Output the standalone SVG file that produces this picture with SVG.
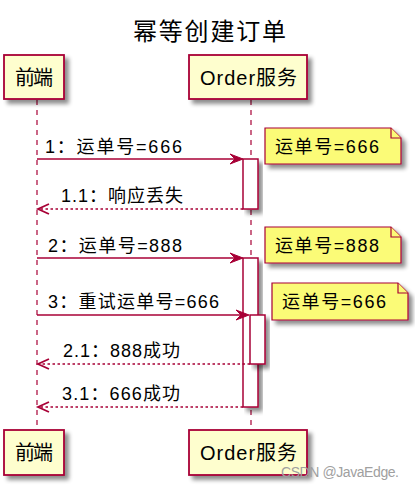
<svg xmlns="http://www.w3.org/2000/svg" width="415" height="490" viewBox="0 0 415 490">
<style>
text{font-family:"Liberation Sans","Noto Sans CJK SC",sans-serif;fill:#000}
.part{fill:#FEFECE;stroke:#A80036;stroke-width:1.8}
.life{stroke:#A80036;stroke-width:1.2;stroke-dasharray:5,5;fill:none}
.act{fill:#FFFFFF;stroke:#A80036;stroke-width:1.5}
.note{fill:#FBFB77;stroke:#A80036;stroke-width:1.2}
.msg{stroke:#A80036;stroke-width:1.4;fill:none}
.ret{stroke:#A80036;stroke-width:1.4;fill:none;stroke-dasharray:2.5,2.5}
.head{fill:#A80036;stroke:#A80036;stroke-width:1}
.ohead{fill:none;stroke:#A80036;stroke-width:1.8}
.pt{font-size:20px}
.mt{font-size:18px}
</style>
<defs>
<filter id="sh" x="-20%" y="-20%" width="150%" height="150%">
<feGaussianBlur in="SourceAlpha" stdDeviation="2"/>
<feOffset dx="4" dy="4" result="b"/>
<feComponentTransfer><feFuncA type="linear" slope="0.45"/></feComponentTransfer>
<feMerge><feMergeNode/><feMergeNode in="SourceGraphic"/></feMerge>
</filter>
</defs>
<rect width="415" height="490" fill="#FFFFFF"/>
<text x="209.5" y="40" font-size="24" text-anchor="middle" textLength="153" lengthAdjust="spacing">幂等创建订单</text>
<g id="lifelines">
<line class="life" x1="37" y1="100" x2="37" y2="430"/>
<line class="life" x1="251" y1="100" x2="251" y2="430"/>
</g>
<g id="p-front-top"><rect class="part" x="4" y="55" width="60" height="44" filter="url(#sh)"/><text class="pt" x="15" y="85" textLength="38" lengthAdjust="spacing">前端</text></g>
<g id="p-order-top"><rect class="part" x="189" y="55" width="118" height="44" filter="url(#sh)"/><text class="pt" x="200" y="85" textLength="97" lengthAdjust="spacing">Order服务</text></g>
<g id="p-front-bottom"><rect class="part" x="4" y="430" width="60" height="45" filter="url(#sh)"/><text class="pt" x="15" y="460" textLength="38" lengthAdjust="spacing">前端</text></g>
<g id="p-order-bottom"><rect class="part" x="189" y="430" width="118" height="45" filter="url(#sh)"/><text class="pt" x="200" y="460" textLength="97" lengthAdjust="spacing">Order服务</text></g>
<g id="activations">
<rect class="act" x="243" y="159" width="15" height="50" filter="url(#sh)"/>
<rect class="act" x="243" y="258" width="15" height="149" filter="url(#sh)"/>
<rect class="act" x="250" y="315" width="15" height="49" filter="url(#sh)"/>
</g>
<g id="notes">
<g id="note1"><path class="note" d="M265,128 H391 L401,138 V164 H265 Z" filter="url(#sh)"/><path class="note" d="M391,128 V138 H401"/><text class="mt" x="275" y="153" textLength="104" lengthAdjust="spacing">运单号=666</text></g>
<g id="note2"><path class="note" d="M265,227 H391 L401,237 V263 H265 Z" filter="url(#sh)"/><path class="note" d="M391,227 V237 H401"/><text class="mt" x="275" y="252" textLength="104" lengthAdjust="spacing">运单号=888</text></g>
<g id="note3"><path class="note" d="M272,283 H398 L408,293 V320 H272 Z" filter="url(#sh)"/><path class="note" d="M398,283 V293 H408"/><text class="mt" x="282" y="308" textLength="104" lengthAdjust="spacing">运单号=666</text></g>
</g>
<g id="connectors">
<line class="msg" x1="37" y1="159" x2="238" y2="159"/>
<polygon class="head" points="243,159 230,154 235,159 230,164"/>
<text class="mt" x="45" y="153" textLength="137" lengthAdjust="spacing">1：运单号=666</text>
<line class="ret" x1="243" y1="209" x2="39" y2="209"/>
<polyline class="ohead" points="49,204 38,209 49,214"/>
<text class="mt" x="61" y="202" textLength="122" lengthAdjust="spacing">1.1：响应丢失</text>
<line class="msg" x1="37" y1="258" x2="238" y2="258"/>
<polygon class="head" points="243,258 230,253 235,258 230,263"/>
<text class="mt" x="48" y="252" textLength="134" lengthAdjust="spacing">2：运单号=888</text>
<line class="msg" x1="37" y1="315" x2="244" y2="315"/>
<polygon class="head" points="249,315 236,310 241,315 236,320"/>
<text class="mt" x="48" y="308" textLength="171" lengthAdjust="spacing">3：重试运单号=666</text>
<line class="ret" x1="250" y1="364" x2="39" y2="364"/>
<polyline class="ohead" points="49,359 38,364 49,369"/>
<text class="mt" x="63" y="357" textLength="117" lengthAdjust="spacing">2.1：888成功</text>
<line class="ret" x1="243" y1="407" x2="39" y2="407"/>
<polyline class="ohead" points="49,402 38,407 49,412"/>
<text class="mt" x="62" y="400" textLength="118" lengthAdjust="spacing">3.1：666成功</text>
</g>
<text x="281" y="477" font-size="14" fill="#A0A0A0" style="fill:#A0A0A0" textLength="118" lengthAdjust="spacing">CSDN @JavaEdge.</text>
</svg>
